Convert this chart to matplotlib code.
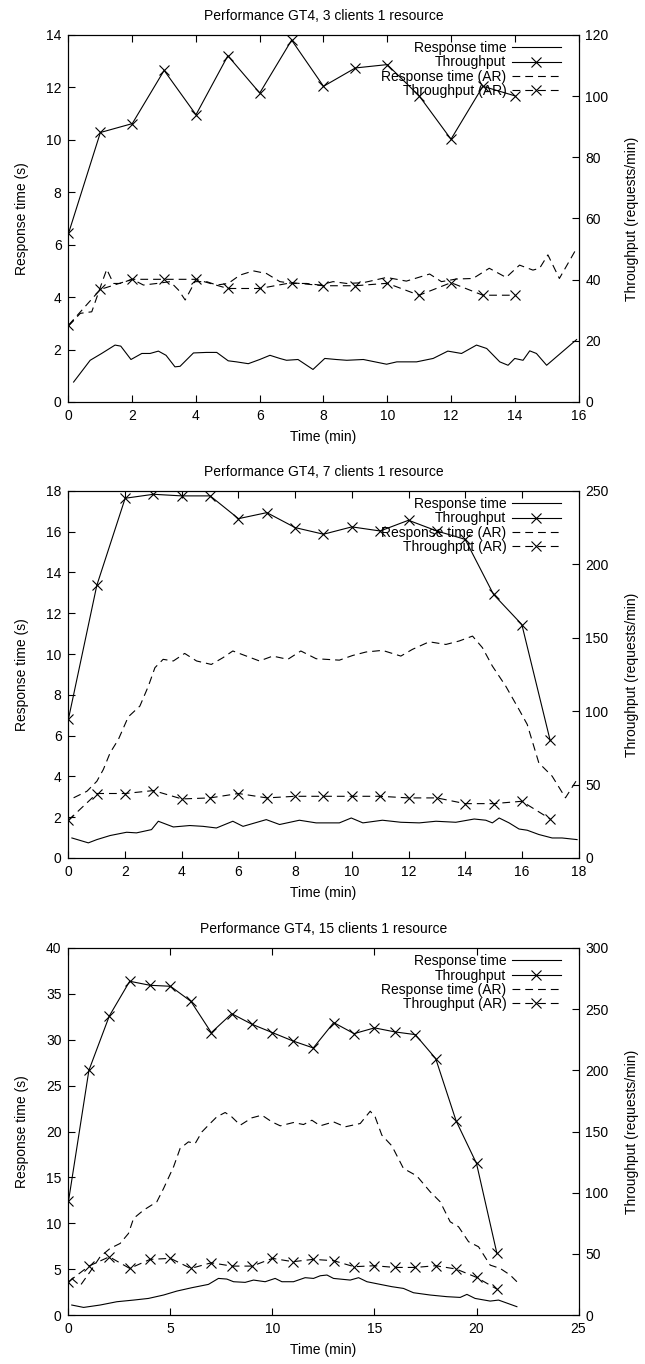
import matplotlib
matplotlib.use("Agg")
import matplotlib.pyplot as plt
import numpy as np

plt.rcParams['font.family'] = ['Liberation Sans', 'DejaVu Sans']
plt.rcParams['font.size'] = 10

# ---- panel 1: 3 clients ----
p1_title = "Performance GT4, 3 clients 1 resource"
p1_thr_t = list(range(15))
p1_thr = [55.1, 88.1, 91.0, 108.4, 93.9, 113.2, 101.0, 118.3, 103.2, 109.2, 110.3, 100.1, 85.9, 103.2, 100.1]
p1_thr_ar = [25.1, 36.8, 40.1, 40.1, 40.1, 37.1, 37.1, 39.0, 38.0, 38.0, 38.8, 34.9, 39.0, 34.9, 34.9]
p1_rt_t = [0.16, 0.68, 1.04, 1.46, 1.64, 1.96, 2.3, 2.56, 2.82, 3.06, 3.34, 3.5, 3.92, 4.33, 4.65,
           5.01, 5.27, 5.64, 6.0, 6.32, 6.63, 6.84, 7.2, 7.67, 8.04, 8.4, 8.73, 9.25, 9.98, 10.3,
           10.92, 11.44, 11.9, 12.33, 12.8, 13.12, 13.53, 13.79, 14.0, 14.26, 14.47, 14.68, 15.0, 15.94]
p1_rt = [0.76, 1.59, 1.85, 2.17, 2.13, 1.62, 1.85, 1.85, 1.94, 1.78, 1.34, 1.36, 1.87, 1.89, 1.89,
         1.57, 1.53, 1.46, 1.62, 1.78, 1.66, 1.59, 1.62, 1.24, 1.66, 1.62, 1.59, 1.62, 1.44, 1.53,
         1.53, 1.66, 1.94, 1.85, 2.17, 2.04, 1.53, 1.40, 1.66, 1.59, 1.95, 1.85, 1.40, 2.38]
p1_rt_ar_t = [0.0, 0.37, 0.73, 1.04, 1.2, 1.41, 1.62, 2.0, 2.35, 2.77, 3.19, 3.45, 3.66, 3.97, 4.33,
              4.65, 5.01, 5.38, 5.8, 6.21, 6.63, 7.05, 7.47, 7.88, 8.3, 8.73, 9.25, 9.98, 10.6, 11.33,
              11.7, 12.17, 12.69, 13.2, 13.73, 14.15, 14.57, 14.78, 15.04, 15.4, 15.94]
p1_rt_ar = [2.9, 3.38, 3.44, 4.52, 5.06, 4.52, 4.52, 4.68, 4.46, 4.52, 4.59, 4.27, 3.89, 4.59, 4.59,
            4.46, 4.52, 4.84, 5.0, 4.9, 4.59, 4.52, 4.52, 4.46, 4.59, 4.52, 4.55, 4.75, 4.61, 4.88,
            4.59, 4.69, 4.71, 5.10, 4.75, 5.22, 5.03, 5.10, 5.61, 4.71, 5.86]

# ---- panel 2: 7 clients ----
p2_title = "Performance GT4, 7 clients 1 resource"
p2_thr_t = list(range(18))
p2_thr = [94.8, 185.7, 245, 247.7, 246.6, 246.6, 231.1, 235.2, 225, 220.5, 225.5, 222.7, 230, 222.7,
          217, 179.5, 159, 80]
p2_thr_ar = [25.7, 43.9, 43.9, 45.9, 40.2, 40.9, 43.9, 40.9, 42, 42, 42, 42, 40.9, 40.9, 37, 37, 38.6, 26.6]
p2_rt_t = [0.12, 0.7, 1.0, 1.47, 2.05, 2.4, 2.93, 3.17, 3.7, 4.28, 4.75, 5.22, 5.8, 6.16, 6.98, 7.45,
           8.15, 8.74, 9.56, 9.98, 10.39, 11.08, 11.73, 12.38, 12.97, 13.67, 14.32, 14.73, 14.96,
           15.2, 15.55, 15.9, 16.19, 16.6, 17.07, 17.42, 17.95]
p2_rt = [0.98, 0.74, 0.9, 1.1, 1.26, 1.23, 1.39, 1.8, 1.52, 1.59, 1.55, 1.47, 1.8, 1.55, 1.88, 1.64,
         1.85, 1.72, 1.72, 1.96, 1.72, 1.85, 1.75, 1.72, 1.8, 1.75, 1.91, 1.85, 1.72,
         1.96, 1.72, 1.42, 1.36, 1.15, 0.98, 0.98, 0.9]
p2_rt_ar_t = [0.18, 0.65, 1.0, 1.23, 1.47, 1.76, 2.11, 2.52, 2.82, 3.05, 3.34, 3.7, 4.1, 4.52, 5.04,
              5.45, 5.8, 6.28, 6.74, 7.21, 7.74, 8.2, 8.74, 9.56, 10.03, 10.5, 11.08, 11.73, 12.14,
              12.73, 13.32, 13.79, 14.26, 14.61, 14.96, 15.43, 15.9, 16.19, 16.6, 17.07, 17.54, 17.95]
p2_rt_ar = [2.95, 3.27, 3.76, 4.34, 5.16, 5.81, 6.92, 7.45, 8.43, 9.33, 9.74, 9.66, 10.03, 9.66, 9.49,
            9.82, 10.15, 9.9, 9.66, 9.9, 9.74, 10.15, 9.77, 9.7, 9.93, 10.1, 10.18, 9.9, 10.23,
            10.6, 10.47, 10.64, 10.88, 10.31, 9.41, 8.43, 7.28, 6.55, 4.66, 4.01, 2.95, 3.85]

# ---- panel 3: 15 clients ----
p3_title = "Performance GT4, 15 clients 1 resource"
p3_thr_t = list(range(22))
p3_thr = [93.1, 200, 244.4, 272.8, 269.5, 268.7, 256.4, 230.8, 246.3, 237.6, 230.8, 224, 218.3, 239,
          230, 234.7, 231.4, 229.2, 209.6, 158.7, 123.9, 50.4]
p3_thr_ar = [27.2, 40, 47.6, 38.1, 45.5, 46.3, 38.1, 42.7, 40, 40, 46.3, 43.6, 45.5, 44.4, 39.5, 40.3,
             38.9, 38.9, 40.3, 37.6, 30.8, 21.2]
p3_rt_t = [0.16, 0.74, 1.55, 2.37, 3.19, 3.92, 4.66, 5.31, 6.05, 6.86, 7.35, 7.76, 8.09, 8.66, 9.07,
           9.64, 10.13, 10.46, 11.03, 11.6, 12.01, 12.34, 12.67, 12.99, 13.81, 14.22, 14.63, 15.28,
           15.85, 16.42, 16.91, 17.73, 18.55, 19.2, 19.53, 19.93, 20.67, 21.08, 21.98]
p3_rt = [1.09, 0.83, 1.09, 1.45, 1.63, 1.81, 2.18, 2.61, 2.98, 3.34, 3.99, 3.92, 3.63, 3.56, 3.81,
         3.63, 3.99, 3.63, 3.63, 4.07, 3.99, 4.28, 4.36, 3.99, 3.81, 4.07, 3.63, 3.34,
         3.09, 2.9, 2.43, 2.18, 2.0, 1.92, 2.25, 1.81, 1.52, 1.63, 0.91]
p3_rt_ar_t = [0.16, 0.57, 1.06, 1.55, 2.04, 2.53, 2.94, 3.19, 3.68, 4.33, 4.66, 5.15, 5.47, 5.88, 6.21,
              6.54, 6.94, 7.27, 7.68, 8.0, 8.42, 8.99, 9.48, 9.97, 10.38, 11.03, 11.52, 11.93, 12.34,
              12.99, 13.56, 14.3, 14.79, 15.03, 15.36, 15.85, 16.42, 17.07, 17.73, 18.22, 18.71,
              19.12, 19.61, 20.1, 20.67, 21.16, 21.65, 21.98]
p3_rt_ar = [3.99, 3.19, 4.72, 6.35, 7.26, 7.8, 8.89, 10.53, 11.43, 12.34, 13.79, 16.15, 18.15, 18.87, 18.69,
            19.96, 20.87, 21.6, 22.07, 21.6, 20.69, 21.49, 21.78, 21.05, 20.62, 20.98, 20.76, 21.23, 20.62,
            21.05, 20.51, 20.87, 22.21, 21.6, 19.6, 18.44, 15.97, 15.17, 13.43, 12.34, 10.16,
            9.62, 7.99, 7.44, 5.44, 5.08, 4.36, 3.63]

legend_labels = ["Response time", "Throughput", "Response time (AR)", "Throughput (AR)"]

panels = [
    (p1_title, p1_rt_t, p1_rt, p1_thr_t, p1_thr, p1_rt_ar_t, p1_rt_ar, p1_thr_ar,
     (0, 16, 2), (0, 14, 2), (0, 120, 20), 0.7053),
    (p2_title, p2_rt_t, p2_rt, p2_thr_t, p2_thr, p2_rt_ar_t, p2_rt_ar, p2_thr_ar,
     (0, 18, 2), (0, 18, 2), (0, 250, 50), 0.3710),
    (p3_title, p3_rt_t, p3_rt, p3_thr_t, p3_thr, p3_rt_ar_t, p3_rt_ar, p3_thr_ar,
     (0, 25, 5), (0, 40, 5), (0, 300, 50), 0.0359),
]

fig = plt.figure(figsize=(6.45, 13.64), dpi=100)
lw = 0.8
dash = (7, 4.5)
ms = 7

for (title, rt_t, rt, thr_t, thr, rt_ar_t, rt_ar, thr_ar, xr, yr, y2r, bottom) in panels:
    ax = fig.add_axes([0.1062, bottom, 0.7907, 0.2691])
    ax2 = ax.twinx()

    l1, = ax.plot(rt_t, rt, color='black', lw=lw)
    l3, = ax.plot(rt_ar_t, rt_ar, color='black', lw=lw, dashes=dash)
    l2, = ax2.plot(thr_t, thr, color='black', lw=lw, marker='x', ms=ms, mew=0.8)
    l4, = ax2.plot(thr_t, thr_ar, color='black', lw=lw, dashes=dash, marker='x', ms=ms, mew=0.8)

    ax.set_xlim(xr[0], xr[1])
    ax.set_ylim(yr[0], yr[1])
    ax2.set_ylim(y2r[0], y2r[1])
    ax.set_xticks(np.arange(xr[0], xr[1] + 0.1, xr[2]))
    ax.set_yticks(np.arange(yr[0], yr[1] + 0.1, yr[2]))
    ax2.set_yticks(np.arange(y2r[0], y2r[1] + 0.1, y2r[2]))

    ax.tick_params(axis='x', direction='in', top=True, length=5, width=0.8, pad=5)
    ax.tick_params(axis='y', direction='in', right=False, length=5, width=0.8, pad=5)
    ax2.tick_params(axis='y', direction='in', length=5, width=0.8, pad=5)
    for a in (ax, ax2):
        for s in a.spines.values():
            s.set_linewidth(0.8)

    ax.set_title(title, fontsize=10, pad=11)
    ax.set_xlabel("Time (min)", labelpad=5)
    ax.set_ylabel("Response time (s)", labelpad=12)
    ax2.set_ylabel("Throughput (requests/min)", labelpad=12)

    ax2.legend([l1, l2, l3, l4], legend_labels, loc='upper right',
               bbox_to_anchor=(0.977, 1.0), frameon=False, markerfirst=False,
               handlelength=3.5, handletextpad=0.4, labelspacing=0.02,
               borderpad=0.1, borderaxespad=0.35, numpoints=1, fontsize=10)

fig.savefig("out.png", dpi=100)
